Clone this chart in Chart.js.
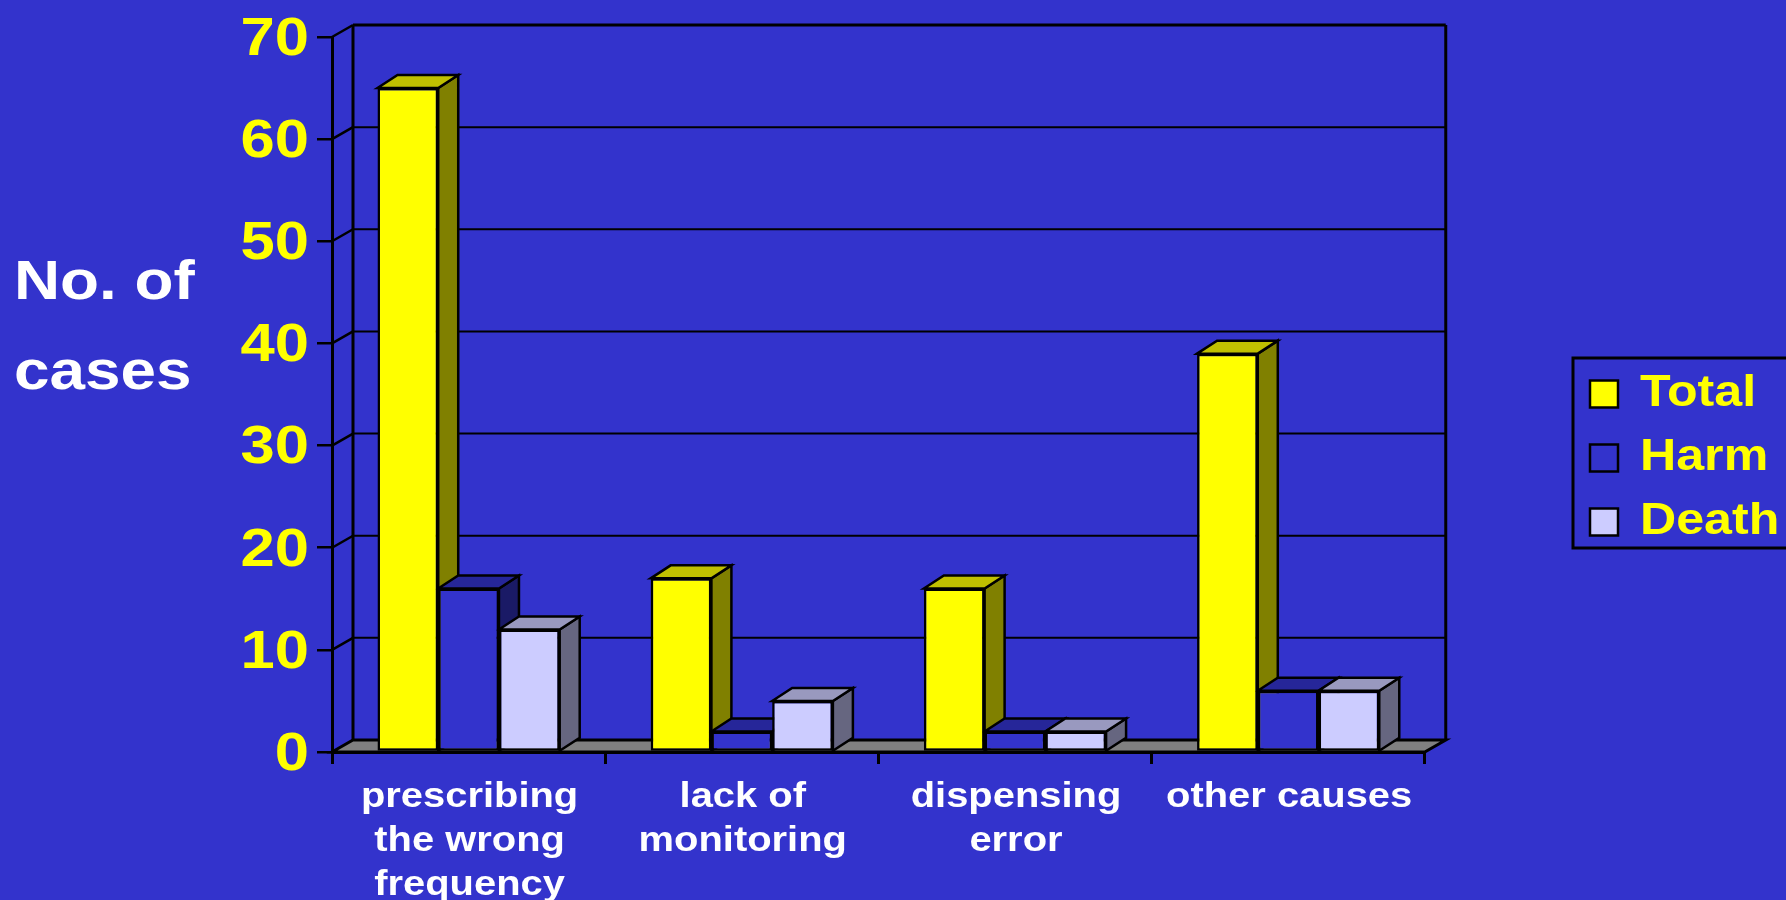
<!DOCTYPE html>
<html>
<head>
<meta charset="utf-8">
<style>
  html,body{margin:0;padding:0;background:#3333CC;overflow:hidden}
  canvas{display:block}
</style>
<script src="https://cdn.jsdelivr.net/npm/chart.js"></script>
</head>
<body>
<canvas id="c" width="1786" height="900" style="width:1786px;height:900px"></canvas>
<script>
const categories = [['prescribing','the wrong','frequency'],['lack of','monitoring'],['dispensing','error'],'other causes'];
const total = [65,17,16,39];
const harm = [16,2,2,6];
const death = [12,5,2,6];
const yMax = 70;
const yStep = 10;
const yTitle = ['No. of','cases'];

const FONT = '"Liberation Sans", Arial, sans-serif';
const wallDx = 21, wallDy = 12;
const barDx = 20, barDy = 13;
const faces = [
  {side:'#808000', top:'#C0C000'},
  {side:'#1A1A66', top:'#262699'},
  {side:'#666680', top:'#9999BF'}
];

function poly(ctx, pts, fill, lw){
  ctx.beginPath();
  pts.forEach((p,i)=> i ? ctx.lineTo(p[0],p[1]) : ctx.moveTo(p[0],p[1]));
  ctx.closePath();
  if(fill){ ctx.fillStyle = fill; ctx.fill(); }
  ctx.lineWidth = lw; ctx.strokeStyle = '#000'; ctx.stroke();
}
function line(ctx, x1, y1, x2, y2, lw){
  ctx.beginPath(); ctx.moveTo(x1,y1); ctx.lineTo(x2,y2);
  ctx.lineWidth = lw; ctx.strokeStyle = '#000'; ctx.stroke();
}

// the legend sits away from the plot, so move it after layout
const legendMove = {
  id:'legendMove',
  afterLayout(chart){
    const l = chart.legend;
    const dy = -10.5;
    l.right = 1786; l.left = 1570; l.top += dy; l.bottom += dy;
  }
};

// back wall, floor, side wall and the y title
const walls = {
  id:'walls',
  beforeDraw(chart){
    const ctx = chart.ctx, a = chart.chartArea, y = chart.scales.y;
    ctx.save();
    ctx.fillStyle = '#3333CC';
    ctx.fillRect(0,0,chart.width,chart.height);
    poly(ctx, [[a.left,a.bottom],[a.left+wallDx,a.bottom-wallDy],[a.right+wallDx,a.bottom-wallDy],[a.right,a.bottom]], '#808080', 3);
    for(let v=yStep; v<=yMax; v+=yStep){
      const py = y.getPixelForValue(v);
      line(ctx, a.left, py, a.left+wallDx, py-wallDy, 2.5);
      line(ctx, a.left+wallDx, py-wallDy, a.right+wallDx, py-wallDy, v===yMax ? 3 : 2);
    }
    line(ctx, a.left+wallDx, a.top-wallDy, a.left+wallDx, a.bottom-wallDy, 3);
    line(ctx, a.right+wallDx, a.top-wallDy, a.right+wallDx, a.bottom-wallDy, 3);

    ctx.fillStyle = '#fff';
    ctx.font = 'bold 56px '+FONT;
    ctx.textAlign = 'left';
    ctx.textBaseline = 'middle';
    ctx.fillText(yTitle[0], 14, 284);
    ctx.fillText(yTitle[1], 14, 374);
    ctx.restore();
  },
  // sides and tops go under the fronts the library draws next
  beforeDatasetsDraw(chart){
    const ctx = chart.ctx;
    ctx.save();
    for(let j=0; j<categories.length; j++){
      chart.data.datasets.forEach((ds,i)=>{
        const b = chart.getDatasetMeta(i).data[j];
        const l = b.x-b.width/2, r = b.x+b.width/2;
        poly(ctx, [[r,b.y],[r+barDx,b.y-barDy],[r+barDx,b.base-barDy],[r,b.base]], faces[i].side, 2.5);
        poly(ctx, [[l,b.y],[l+barDx,b.y-barDy],[r+barDx,b.y-barDy],[r,b.y]], faces[i].top, 2.5);
      });
    }
    ctx.restore();
  },
  afterDraw(chart){
    const ctx = chart.ctx, l = chart.legend;
    const mid = (l.top+l.bottom)/2;
    ctx.save();
    ctx.strokeStyle = '#000';
    ctx.lineWidth = 3;
    ctx.strokeRect(l.left+3, mid-100, 260, 190);
    ctx.restore();
  }
};

// the reference text is Arial pulled wider, so stretch every label about its anchor
const ctx2d = document.getElementById('c').getContext('2d');
const rawFillText = ctx2d.fillText.bind(ctx2d);
ctx2d.fillText = function(t, x, y){
  ctx2d.save();
  ctx2d.translate(x, y);
  ctx2d.scale(1.14, 1);
  rawFillText(t, 0, 0);
  ctx2d.restore();
};

new Chart(ctx2d,{
  type:'bar',
  data:{
    labels:categories,
    datasets:[
      {label:'Total', data:total, backgroundColor:'#FFFF00'},
      {label:'Harm', data:harm, backgroundColor:'#3333CC'},
      {label:'Death', data:death, backgroundColor:'#CCCCFF'}
    ]
  },
  options:{
    responsive:false,
    animation:false,
    layout:{padding:{top:37,right:159,left:0,bottom:0}},
    datasets:{bar:{categoryPercentage:0.667, barPercentage:1, borderColor:'#000', borderWidth:2.5, borderSkipped:false}},
    plugins:{
      tooltip:{enabled:false},
      legend:{
        position:'right',
        align:'center',
        labels:{
          color:'#FFFF00',
          font:{family:FONT, size:44, weight:'bold'},
          boxWidth:28, boxHeight:27, padding:20
        }
      }
    },
    scales:{
      x:{
        afterFit(s){ s.height = 148; },
        border:{color:'#000', width:3},
        grid:{drawOnChartArea:false, color:'#000', lineWidth:3, tickLength:12},
        ticks:{color:'#fff', font:{family:FONT, size:35, weight:'bold', lineHeight:1.26}, padding:11, labelOffset:1, maxRotation:0, autoSkip:false}
      },
      y:{
        min:0, max:yMax,
        afterFit(s){ s.width = 332; s.paddingTop = 0; s.paddingBottom = 0; },
        border:{color:'#000', width:3},
        grid:{drawOnChartArea:false, color:'#000', lineWidth:2.5, tickLength:15},
        ticks:{color:'#FFFF00', font:{family:FONT, size:54, weight:'bold'}, stepSize:yStep, padding:8, labelOffset:3}
      }
    }
  },
  plugins:[legendMove, walls]
});
</script>
</body>
</html>
